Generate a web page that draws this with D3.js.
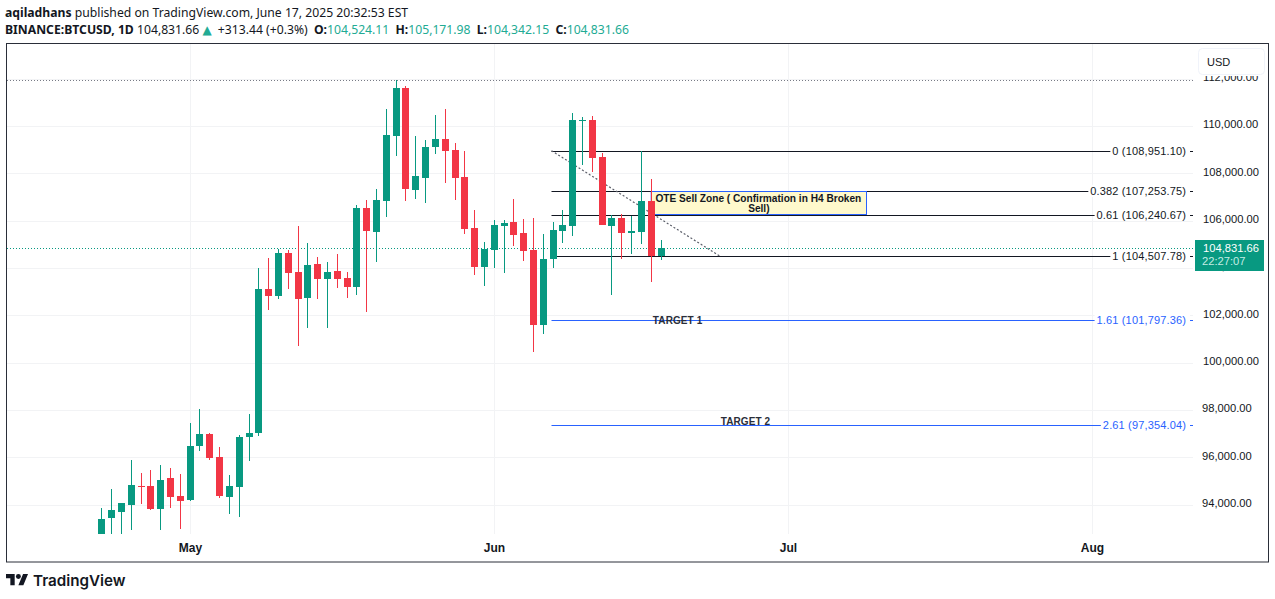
<!DOCTYPE html>
<html><head><meta charset="utf-8">
<script src="https://cdnjs.cloudflare.com/ajax/libs/d3/7.8.5/d3.min.js"></script>
<style>html,body{margin:0;padding:0;background:#fff;overflow:hidden}svg{display:block}</style>
</head><body><svg id="c" width="1275" height="599"></svg>
<script>
const dates=["2025-04-22","2025-04-23","2025-04-24","2025-04-25","2025-04-26","2025-04-27","2025-04-28","2025-04-29","2025-04-30","2025-05-01","2025-05-02","2025-05-03","2025-05-04","2025-05-05","2025-05-06","2025-05-07","2025-05-08","2025-05-09","2025-05-10","2025-05-11","2025-05-12","2025-05-13","2025-05-14","2025-05-15","2025-05-16","2025-05-17","2025-05-18","2025-05-19","2025-05-20","2025-05-21","2025-05-22","2025-05-23","2025-05-24","2025-05-25","2025-05-26","2025-05-27","2025-05-28","2025-05-29","2025-05-30","2025-05-31","2025-06-01","2025-06-02","2025-06-03","2025-06-04","2025-06-05","2025-06-06","2025-06-07","2025-06-08","2025-06-09","2025-06-10","2025-06-11","2025-06-12","2025-06-13","2025-06-14","2025-06-15","2025-06-16","2025-06-17","2025-06-18"];
const opens=[92700,93417,93670,93966,94769,94769,93797,95108,94347,94177,96461,96968,95996,94304,94727,96841,97010,103099,102803,104621,103818,102719,104156,103522,103860,103564,103184,106524,105509,106820,109569,111598,107285,107793,109103,109442,108977,107835,105678,104030,104748,105763,105932,105467,104748,101577,104368,105551,105763,110203,110245,108680,105763,106101,105467,105509,106820,104524];
const closes=[93374,93755,94051,94812,94727,93797,95023,94304,94135,96461,96968,95953,94347,94769,96841,97010,103099,102803,104621,103776,102676,104114,103522,103818,103522,103184,106524,105551,106862,109611,111598,107328,107877,109103,109442,108934,107793,105636,104030,104791,105805,105890,105383,104706,101577,104368,105594,105805,110245,110245,108638,105805,106101,105467,105551,106820,104494,104832];
const highs=[93839,94643,94051,95869,95319,95446,95657,95530,95277,97433,98025,97010,96419,95235,96926,97814,103987,104410,104791,104748,105763,105045,104452,104241,104579,103818,106651,106862,107328,110710,111936,111683,109569,109399,110457,110710,109272,108934,106440,105087,106017,106017,106905,106059,106101,105425,105932,106440,110541,110372,110414,108850,106228,106270,106186,108934,107750,105172];
const lows=[92600,92600,92600,92909,94008,93755,92909,93839,92952,94135,96250,95869,94262,93586,93459,95826,96884,102211,102676,103099,100689,101450,102676,101450,103141,102719,102845,102127,104241,106143,108723,106820,106905,106736,108807,107580,106862,105425,103691,103226,103987,103776,104917,104283,100435,101196,103987,105045,105340,108342,108046,105805,102845,104368,104579,105002,103395,104342];
const yTicks=[94000,96000,98000,100000,102000,104000,106000,108000,110000,112000];
const monthTicks=["2025-05-01","2025-06-01","2025-07-01","2025-08-01"];
const fibLevels=["0","0.382","0.61","1","1.61","2.61"];
const fibPrices=[108951.10,107253.75,106240.67,104507.78,101797.36,97354.04];
const fibColors=["#131722","#131722","#131722","#131722","#2962ff","#2962ff"];
const fibStart="2025-06-06T21:00:00Z", trendEnd="2025-06-24";
const boxEndDate="2025-07-08T22:00:00Z", boxStartDate="2025-06-17";
const target1=["TARGET 1","2025-06-17T04:00:00Z",101860], target2=["TARGET 2","2025-06-24T02:00:00Z",97575];
const lastClose=104831.66, highLine=111936;
const hdr1=[["aqiladhans",700,"#131722"],[" published on TradingView.com, June 17, 2025 20:32:53 EST",400,"#131722"]];
const hdr2=[["BINANCE:BTCUSD, 1D",700,"#131722"],[" 104,831.66 ",400,"#131722"],["▲",400,"#22ab94"],[" +313.44 (+0.3%) ",400,"#131722"],["O:",700,"#131722"],["104,524.11",400,"#22ab94"],[" H:",700,"#131722"],["105,171.98",400,"#22ab94"],[" L:",700,"#131722"],["104,342.15",400,"#22ab94"],[" C:",700,"#131722"],["104,831.66",400,"#22ab94"]];

const UP="#089981",DOWN="#f23645",GRID="#f2f3f5",INK="#131722";
const AF="'Liberation Sans',Arial,sans-serif";
const svg=d3.select("#c");
const P={l:7,r:1193,t:44,b:534};
const x=d3.scaleUtc().domain([new Date("2025-04-22"),new Date("2025-08-01")]).range([101.85,1092.66]);
const y=d3.scaleLinear().domain([94000,110000]).range([504.6,125.9]);
const X=d=>Math.floor(x(new Date(d)))+0.5;
const Y=v=>Math.round(y(v))+0.5;

svg.append("defs").append("clipPath").attr("id","pane").append("rect").attr("x",P.l).attr("y",P.t).attr("width",P.r-P.l).attr("height",P.b-P.t);
const pane=svg.append("g").attr("clip-path","url(#pane)");

pane.selectAll(".gy").data(yTicks).join("line").attr("x1",P.l).attr("x2",P.r).attr("y1",Y).attr("y2",Y).attr("stroke",GRID);
pane.selectAll(".gx").data(monthTicks).join("line").attr("x1",X).attr("x2",X).attr("y1",P.t).attr("y2",P.b).attr("stroke",GRID);

pane.append("line").attr("x1",P.l).attr("x2",P.r).attr("y1",Y(highLine)).attr("y2",Y(highLine)).attr("stroke","#787b86").attr("stroke-dasharray","1 2");
pane.append("line").attr("x1",P.l).attr("x2",P.r).attr("y1",Y(lastClose)).attr("y2",Y(lastClose)).attr("stroke",UP).attr("stroke-dasharray","1 2");

fibPrices.forEach((p,i)=>{
  pane.append("line").attr("x1",X(fibStart)).attr("x2",P.r).attr("y1",Y(p)).attr("y2",Y(p)).attr("stroke",fibColors[i]);
});
pane.append("line").attr("x1",X(fibStart)).attr("y1",y(fibPrices[0])).attr("x2",X(trendEnd)).attr("y2",y(fibPrices[3])).attr("stroke","#5d606b").attr("stroke-width",1.2).attr("stroke-dasharray","2 2");

const bx0=x(new Date(boxStartDate)),bx1=Math.floor(x(new Date(boxEndDate)))+0.5;
const by0=Y(fibPrices[1]),by1=Y(fibPrices[2])-1;
pane.append("rect").attr("x",bx0).attr("y",by0).attr("width",bx1-bx0).attr("height",by1-by0).attr("fill","#fff9cc").attr("stroke","#2962ff");
pane.append("text").attr("x",(bx0+bx1)/2-0.5).attr("y",by0+10.5).attr("text-anchor","middle").attr("font-family",AF).attr("font-size",10.15).attr("font-weight",700).attr("fill",INK).text("OTE Sell Zone ( Confirmation in H4 Broken");
pane.append("text").attr("x",(bx0+bx1)/2).attr("y",by0+20).attr("text-anchor","middle").attr("font-family",AF).attr("font-size",10.15).attr("font-weight",700).attr("fill",INK).text("Sell)");

const candles=dates.map((d,i)=>({d,o:opens[i],c:closes[i],h:highs[i],l:lows[i]}));
const g=pane.append("g");
g.selectAll(".w").data(candles).join("line").attr("x1",c=>X(c.d)).attr("x2",c=>X(c.d)).attr("y1",c=>Math.round(y(c.h))).attr("y2",c=>Math.round(y(c.l))).attr("stroke",c=>c.c>=c.o?UP:DOWN);
g.selectAll(".b").data(candles).join("rect").attr("x",c=>X(c.d)-3.5).attr("width",7)
 .attr("y",c=>Math.round(y(Math.max(c.o,c.c)))).attr("height",c=>Math.max(1,Math.round(y(Math.min(c.o,c.c)))-Math.round(y(Math.max(c.o,c.c)))))
 .attr("fill",c=>c.c>=c.o?UP:DOWN);

[target1,target2].forEach(t=>{
  pane.append("text").attr("x",x(new Date(t[1]))).attr("y",y(t[2])+5).attr("font-family",AF).attr("font-size",10).attr("letter-spacing","0.1").attr("font-weight",700).attr("fill","#2a2e39").text(t[0]);
});

fibPrices.forEach((p,i)=>{
  const lg=svg.append("g");
  const bg=lg.append("rect").attr("fill","#fff");
  const lbl=lg.append("text").attr("x",1186).attr("y",Y(p)+3.5).attr("text-anchor","end").attr("font-family",AF).attr("font-size",11).attr("letter-spacing","0.15").attr("fill",i>3?"#2962ff":INK)
    .text(`${fibLevels[i]} (${d3.format(",.2f")(p)})`);
  const b=lbl.node().getBBox();
  bg.attr("x",b.x-2).attr("y",b.y).attr("width",1190-b.x+2).attr("height",b.height);
});

svg.append("g").selectAll("text").data(yTicks).join("text").attr("x",d=>d<100000?1202:1203).attr("y",d=>y(d)+2.5).attr("font-family",AF).attr("font-size",11.2).attr("fill",INK).text(d=>d3.format(",.2f")(d));
svg.append("rect").attr("x",1196).attr("y",46).attr("width",71).attr("height",30).attr("fill","#fff");
svg.append("rect").attr("x",1198.5).attr("y",48.5).attr("width",66).attr("height",26).attr("rx",4).attr("fill","#fff").attr("stroke","#f0f3fa");
svg.append("text").attr("x",1207).attr("y",66).attr("font-family",AF).attr("font-size",11).attr("fill",INK).text("USD");
svg.append("rect").attr("x",1195).attr("y",240).attr("width",69).attr("height",31).attr("fill",UP);
svg.append("text").attr("x",1203).attr("y",251.5).attr("font-family",AF).attr("font-size",11.2).attr("fill","#fff").text(d3.format(",.2f")(lastClose));
svg.append("text").attr("x",1202).attr("y",265).attr("font-family",AF).attr("font-size",11.2).attr("fill","#c4ece4").text("22:27:07");

svg.append("g").selectAll("text").data(monthTicks).join("text").attr("x",X).attr("y",552).attr("text-anchor","middle").attr("font-family",AF).attr("font-size",12).attr("font-weight",700).attr("fill",INK).text(d=>d3.utcFormat("%b")(new Date(d)));

svg.append("rect").attr("x",6.5).attr("y",43.5).attr("width",1262).attr("height",518.5).attr("fill","none").attr("stroke","#2a2e39");

const HF="'Noto Sans',sans-serif";
[[hdr1,17],[hdr2,34]].forEach(([parts,yy])=>{
  const t=svg.append("text").attr("x",5).attr("y",yy).attr("font-family",HF).attr("font-size",12.2).style("white-space","pre");
  parts.forEach(p=>{
    const s=t.append("tspan").attr("font-weight",p[1]).attr("fill",p[2]).text(p[0]);
    if(p[0]==="▲") s.attr("font-family","'DejaVu Sans'").attr("font-size",12);
    if(/^ [HLC]:/.test(p[0])||p[0].startsWith(" +")||p[0]==="O:") s.attr("dx",3);
  });
});

const lg=svg.append("g").attr("transform","translate(6,571.5) scale(0.62)").attr("fill","#131722");
lg.append("path").attr("d","M14 22H7V11H0V4h14v18zM28 22h-8l7.5-18h8L28 22z");
lg.append("circle").attr("cx",20).attr("cy",8).attr("r",4);
svg.append("text").attr("x",33).attr("y",586).attr("font-family","Inter,'Noto Sans',sans-serif").attr("font-size",15.2).attr("font-weight",600).attr("fill","#131722").text("TradingView");
</script></body></html>
